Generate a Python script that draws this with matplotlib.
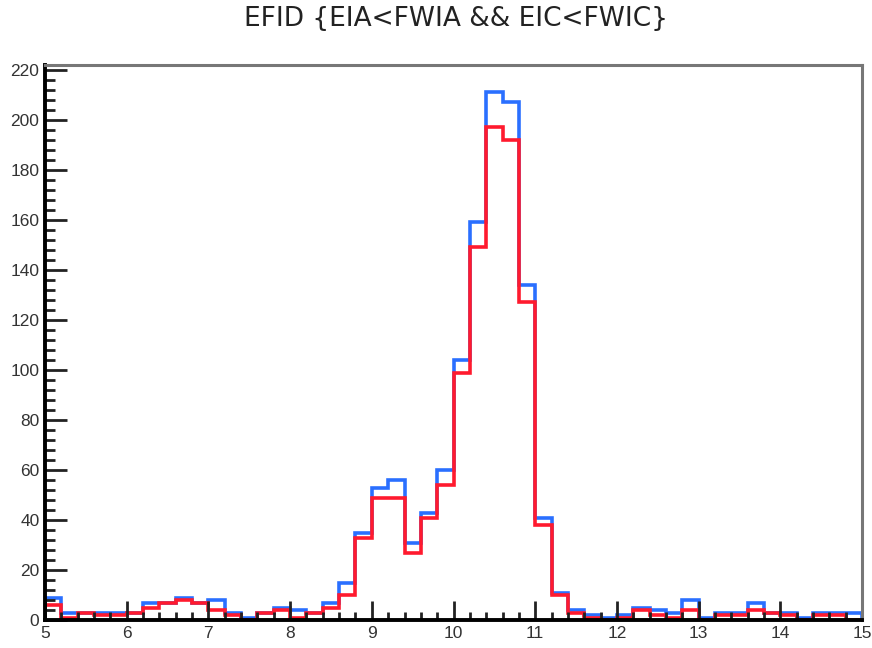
import numpy as np
import matplotlib
matplotlib.use("Agg")
import matplotlib.pyplot as plt
from matplotlib.ticker import MultipleLocator

# 히스토그램 구간 (5 ~ 15, 0.2 간격)
x_min = 5
x_max = 15

# 파란색 (EFID 전체)
blue_counts = [9, 3, 3, 3, 3, 3, 7, 7, 9, 7,
               8, 3, 1, 3, 5, 4, 3, 7, 15, 35,
               53, 56, 31, 43, 60, 104, 159, 211, 207, 134,
               41, 11, 4, 2, 1, 2, 5, 4, 3, 8,
               1, 3, 3, 7, 3, 3, 1, 3, 3, 3]

# 빨간색 (조건 적용)
red_counts = [6, 1, 3, 2, 2, 3, 5, 7, 8, 7,
              4, 2, 0, 3, 4, 1, 3, 5, 10, 33,
              49, 49, 27, 41, 54, 99, 149, 197, 192, 127,
              38, 10, 3, 1, 0, 1, 4, 2, 1, 4,
              0, 2, 2, 4, 3, 2, 0, 2, 2, 0]

title = "EFID {EIA<FWIA && EIC<FWIC}"

plt.rcParams["font.family"] = ["Liberation Sans", "DejaVu Sans"]

fig = plt.figure(figsize=(8.72, 6.48), dpi=100)
ax = fig.add_axes([0.0516, 0.0432, 0.937, 0.8565])

edges = np.linspace(x_min, x_max, len(blue_counts) + 1)
ax.stairs(blue_counts, edges, color="#2a6fff", linewidth=2.6, baseline=0)
ax.stairs(red_counts, edges, color="#ff1a2e", linewidth=2.6, baseline=0)

ax.set_xlim(x_min, x_max)
ax.set_ylim(0, 222)

ax.xaxis.set_major_locator(MultipleLocator(1))
ax.xaxis.set_minor_locator(MultipleLocator(0.2))
ax.yaxis.set_major_locator(MultipleLocator(20))
ax.yaxis.set_minor_locator(MultipleLocator(4))

ax.tick_params(which="both", direction="in", top=False, right=False,
               labelsize=12.5, labelcolor="#333333", color="#222222")
ax.tick_params(axis="x", which="major", length=14, width=2)
ax.tick_params(axis="x", which="minor", length=6, width=2)
ax.tick_params(axis="y", which="major", length=16, width=2)
ax.tick_params(axis="y", which="minor", length=7, width=2)
ax.tick_params(axis="x", pad=4)
ax.tick_params(axis="y", pad=4)

for side in ["left", "bottom"]:
    ax.spines[side].set_linewidth(2.8)
    ax.spines[side].set_color("black")
for side in ["top", "right"]:
    ax.spines[side].set_linewidth(2.2)
    ax.spines[side].set_color("#777777")

fig.text(0.523, 0.970, title, ha="center", va="center", fontsize=19,
         family="DejaVu Sans", color="#222222")

fig.savefig("out.png", dpi=100)
